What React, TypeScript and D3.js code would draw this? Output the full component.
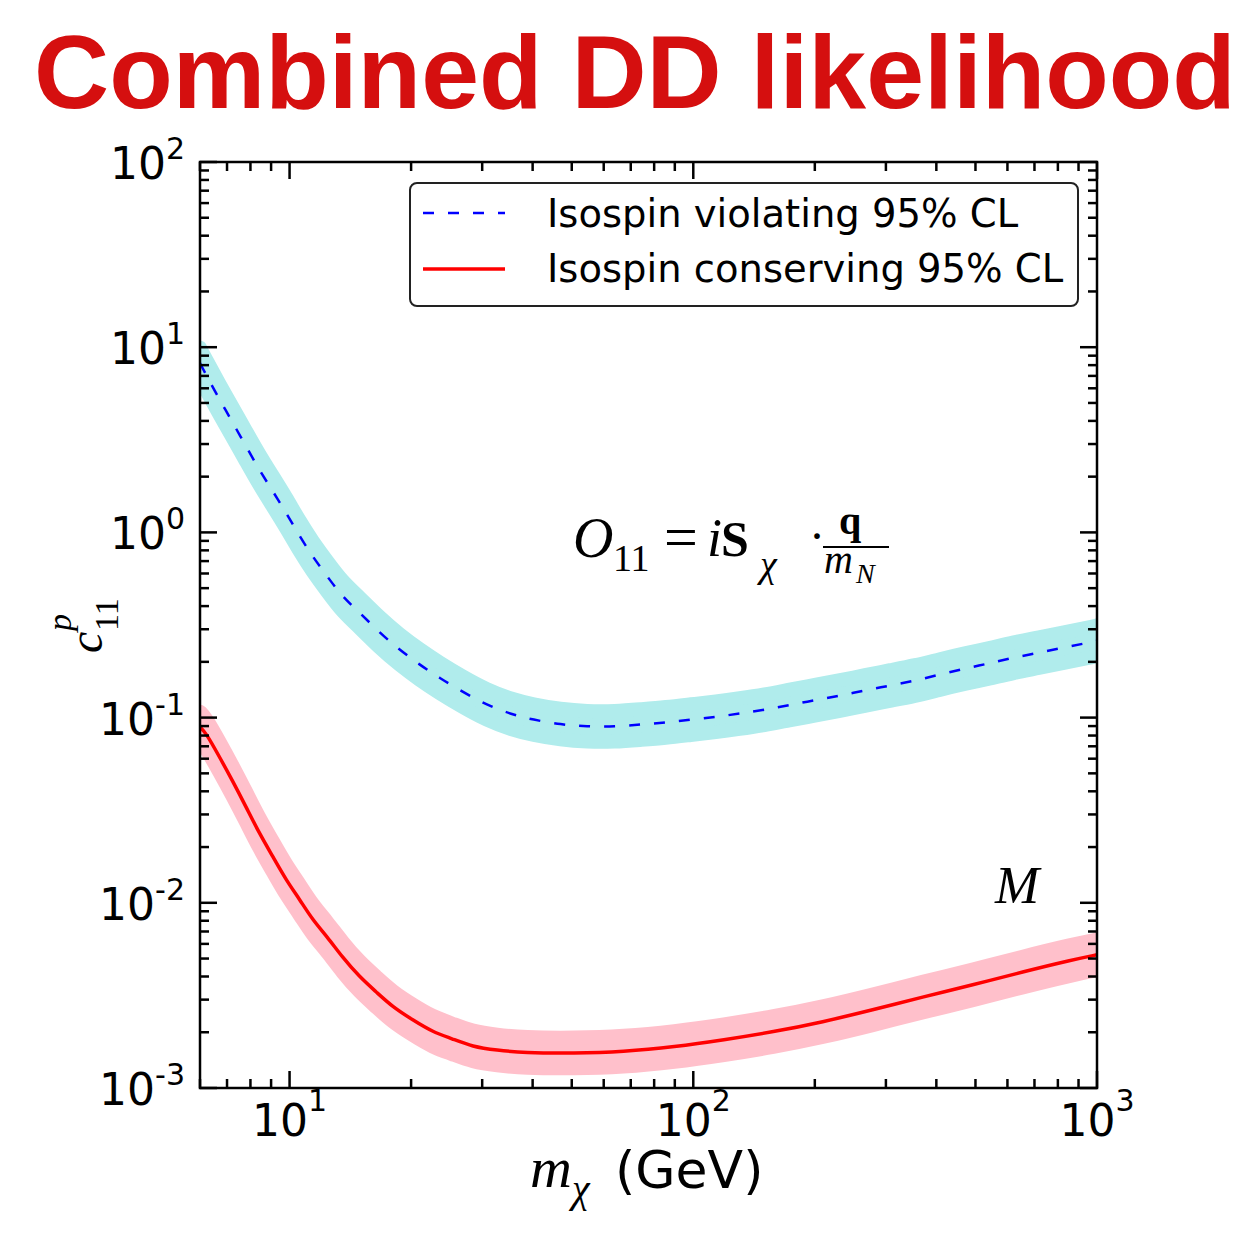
import React from "react";
import * as d3 from "d3";

// values (mass in GeV, coupling c_11^p)
const blueMass = [6, 6.2, 6.7, 7.2, 7.8, 8.4, 9.1, 9.8, 10.6, 11.4, 12.4, 13.5, 14.9, 16.7, 18.7, 21, 23.5, 26.8, 30.8, 35.5, 40, 47, 54.5, 64, 74, 85.5, 98.6, 114, 130, 150, 173, 200, 231, 266, 307, 354, 408, 471, 540, 622, 718, 828, 955, 1000];
const blueLimit = [8.2, 7.15, 5.24, 3.98, 2.92, 2.19, 1.66, 1.28, 0.951, 0.742, 0.578, 0.451, 0.37, 0.288, 0.233, 0.193, 0.164, 0.138, 0.117, 0.104, 0.0975, 0.0917, 0.0894, 0.0894, 0.0917, 0.094, 0.0975, 0.101, 0.105, 0.11, 0.117, 0.124, 0.1315, 0.14, 0.149, 0.158, 0.171, 0.184, 0.196, 0.211, 0.224, 0.239, 0.254, 0.26];

const redMass = [6, 6.2, 6.7, 7.2, 7.8, 8.4, 9.1, 9.8, 10.6, 11.4, 12.4, 13.5, 14.9, 16.4, 18, 20.2, 22.6, 25.2, 28.4, 32.6, 38, 50.7, 67, 90, 119, 158, 209, 278, 370, 492, 655, 868, 1000];
const redLimit = [0.089, 0.083, 0.0615, 0.0462, 0.033, 0.0239, 0.0177, 0.0133, 0.0104, 0.0081, 0.00655, 0.0051, 0.00398, 0.0033, 0.00274, 0.00233, 0.00201, 0.00185, 0.00167, 0.0016, 0.00155, 0.00154, 0.00157, 0.00167, 0.00182, 0.00201, 0.00227, 0.00264, 0.0031, 0.0036, 0.00424, 0.00492, 0.00524];

// band is roughly a constant factor around each limit curve
const bandFactor = 1.21;

const xMajor = [10, 100, 1000];
const xMajorLabels = ["1", "2", "3"];
const yMajor = [1e-3, 1e-2, 1e-1, 1, 10, 100];
const yMajorLabels = ["-3", "-2", "-1", "0", "1", "2"];

const legendLabels = ["Isospin violating 95% CL", "Isospin conserving 95% CL"];

const left = 200, right = 1097, top = 162, bottom = 1088;

export default function App() {
  const x = d3.scaleLog().domain([6, 1000]).range([left, right]);
  const y = d3.scaleLog().domain([1e-3, 1e2]).range([bottom, top]);

  const blue = blueMass.map((m, i) => [m, blueLimit[i]]);
  const red = redMass.map((m, i) => [m, redLimit[i]]);

  const line = d3
    .line<number[]>()
    .x((d) => x(d[0]))
    .y((d) => y(d[1]))
    .curve(d3.curveBasis);

  const band = d3
    .area<number[]>()
    .x((d) => x(d[0]))
    .y0((d) => y(d[1] / bandFactor))
    .y1((d) => y(d[1] * bandFactor))
    .curve(d3.curveBasis);

  // minor ticks 2..9 in every decade inside the domain
  const xMinor: number[] = [];
  [1, 10, 100].forEach((dec) => d3.range(2, 10).forEach((k) => {
    const v = k * dec;
    if (v >= 6 && v < 1000) xMinor.push(v);
  }));
  const yMinor: number[] = [];
  [1e-3, 1e-2, 1e-1, 1, 10].forEach((dec) => d3.range(2, 10).forEach((k) => yMinor.push(k * dec)));

  const majorLen = 17, minorLen = 9;
  const tickStroke = { stroke: "#000", strokeWidth: 2.5 };

  const math = "'Liberation Serif', 'DejaVu Serif', serif";
  const sans = "'DejaVu Sans', sans-serif";

  return (
    <div style={{ position: "absolute", left: 0, top: 0 }}>
      <svg width={1254} height={1240} style={{ display: "block", background: "#fff" }}>
        <defs>
          <clipPath id="plot-clip">
            <rect x={left} y={top} width={right - left} height={bottom - top} />
          </clipPath>
        </defs>

        <text x={635} y={108} textAnchor="middle" fontFamily="'Liberation Sans', Arial, sans-serif"
          fontWeight="bold" fontSize={104} fill="#d50f0f">Combined DD likelihood</text>

        <g clipPath="url(#plot-clip)">
          <path d={band(blue) || ""} fill="#b0ecec" stroke="#b0ecec" strokeWidth={14} strokeLinejoin="round" />
          <path d={band(red) || ""} fill="#ffc0cb" stroke="#ffc0cb" strokeWidth={14} strokeLinejoin="round" />
          <path d={line(blue) || ""} fill="none" stroke="#0000ff" strokeWidth={2.5} strokeDasharray="11,14" />
          <path d={line(red) || ""} fill="none" stroke="#ff0000" strokeWidth={3.5} />
        </g>

        {/* ticks on all four sides, pointing inward */}
        {xMajor.map((v) => (
          <g key={"xM" + v}>
            <line x1={x(v)} x2={x(v)} y1={bottom} y2={bottom - majorLen} {...tickStroke} />
            <line x1={x(v)} x2={x(v)} y1={top} y2={top + majorLen} {...tickStroke} />
          </g>
        ))}
        {xMinor.map((v) => (
          <g key={"xm" + v}>
            <line x1={x(v)} x2={x(v)} y1={bottom} y2={bottom - minorLen} {...tickStroke} />
            <line x1={x(v)} x2={x(v)} y1={top} y2={top + minorLen} {...tickStroke} />
          </g>
        ))}
        {yMajor.map((v) => (
          <g key={"yM" + v}>
            <line x1={left} x2={left + majorLen} y1={y(v)} y2={y(v)} {...tickStroke} />
            <line x1={right} x2={right - majorLen} y1={y(v)} y2={y(v)} {...tickStroke} />
          </g>
        ))}
        {yMinor.map((v) => (
          <g key={"ym" + v}>
            <line x1={left} x2={left + minorLen} y1={y(v)} y2={y(v)} {...tickStroke} />
            <line x1={right} x2={right - minorLen} y1={y(v)} y2={y(v)} {...tickStroke} />
          </g>
        ))}

        <rect x={left} y={top} width={right - left} height={bottom - top} fill="none" stroke="#000" strokeWidth={2.5} />

        {/* tick labels */}
        {xMajor.map((v, i) => (
          <text key={"xl" + v} x={x(v)} y={bottom + 48} textAnchor="middle" fontFamily={sans} fontSize={44}>
            10<tspan dy={-25} fontSize={30}>{xMajorLabels[i]}</tspan>
          </text>
        ))}
        {yMajor.map((v, i) => (
          <text key={"yl" + v} x={185} y={y(v) + 17} textAnchor="end" fontFamily={sans} fontSize={44}>
            10<tspan dy={-20} fontSize={30}>{yMajorLabels[i]}</tspan>
          </text>
        ))}

        {/* axis labels */}
        <text x={530} y={1187} fontFamily={math} fontStyle="italic" fontSize={58}>m</text>
        <text x={572} y={1202} fontFamily={math} fontStyle="italic" fontSize={40}>χ</text>
        <text x={615} y={1188} fontFamily={sans} fontSize={52}>(GeV)</text>

        <g transform="translate(102,653) rotate(-90)" fontFamily={math} fontStyle="italic">
          <text x={0} y={0} fontSize={48}>c</text>
          <text x={22} y={-31} fontSize={34}>p</text>
          <text x={22} y={16} fontSize={34} fontStyle="normal">11</text>
        </g>

        {/* operator annotation */}
        <g fontFamily={math}>
          <text x={573} y={557} fontSize={56} fontStyle="italic">O</text>
          <text x={613} y={571} fontSize={38}>11</text>
          <text x={664} y={557} fontSize={60}>=</text>
          <text x={707} y={556} fontSize={54} fontStyle="italic">i</text>
          <text x={721} y={556} fontSize={50} fontWeight="bold">S</text>
          <text x={760} y={577} fontSize={38} fontStyle="italic">χ</text>
          <text x={809} y={552} fontSize={48}>·</text>
          <text x={839} y={534} fontSize={40} fontWeight="bold">q</text>
          <line x1={823} x2={889} y1={547} y2={547} stroke="#000" strokeWidth={2.2} />
          <text x={824} y={573} fontSize={40} fontStyle="italic">m</text>
          <text x={856} y={583} fontSize={28} fontStyle="italic">N</text>
          <text x={995} y={903} fontSize={53} fontStyle="italic">M</text>
        </g>

        {/* legend */}
        <rect x={410} y={183} width={668} height={123} rx={7} fill="#fff" stroke="#222" strokeWidth={2} />
        <line x1={423} x2={505} y1={213} y2={213} stroke="#0000ff" strokeWidth={2.5} strokeDasharray="11,14" />
        <line x1={423} x2={505} y1={269} y2={269} stroke="#ff0000" strokeWidth={3.5} />
        <text x={547} y={227} fontFamily={sans} fontSize={38.5}>{legendLabels[0]}</text>
        <text x={547} y={282} fontFamily={sans} fontSize={38.5}>{legendLabels[1]}</text>
      </svg>
    </div>
  );
}
